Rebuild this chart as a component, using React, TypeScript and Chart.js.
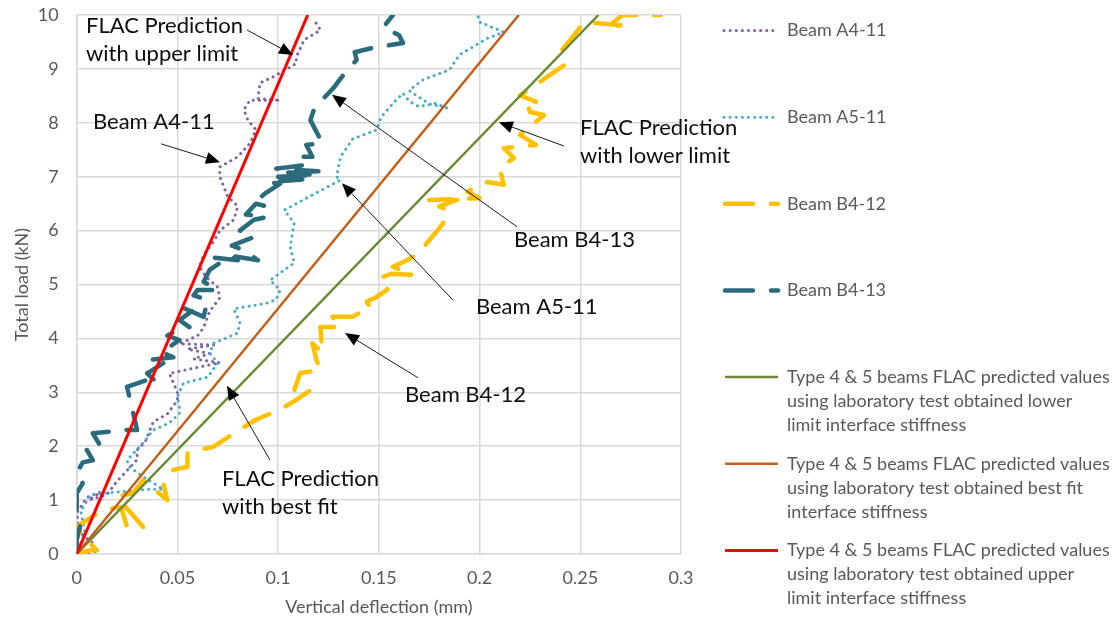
import React, { useEffect, useRef } from "react";
import { Chart, registerables } from "chart.js";

Chart.register(...registerables);

// ---------- axes ----------
const xTickValues = [0, 0.05, 0.1, 0.15, 0.2, 0.25, 0.3];
const xTickLabels = ["0", "0.05", "0.1", "0.15", "0.2", "0.25", "0.3"];
const yTickValues = [0, 1, 2, 3, 4, 5, 6, 7, 8, 9, 10];
const xAxisTitle = "Vertical deflection (mm)";
const yAxisTitle = "Total load (kN)";

// ---------- measured series ----------
const a411X = [0, 0.01, 0.008, 0.003, 0.001, 0, 0.002, 0.005, 0.012, 0.006, 0.015, 0.02, 0.025, 0.03, 0.03, 0.034, 0.038, 0.045, 0.05, 0.05, 0.046, 0.071, 0.058, 0.066, 0.055, 0.068, 0.051, 0.06, 0.063, 0.066, 0.071, 0.07, 0.064, 0.061, 0.063, 0.068, 0.071, 0.078, 0.08, 0.075, 0.071, 0.071, 0.08, 0.086, 0.089, 0.085, 0.083, 0.086, 0.101, 0.09, 0.091, 0.098, 0.109, 0.109, 0.113, 0.121, 0.118];
const a411Y = [0, 0.05, 0.2, 0.35, 0.55, 0.76, 0.87, 1.05, 1.15, 1.0, 1.1, 1.35, 1.55, 1.75, 1.93, 2.08, 2.45, 2.6, 2.85, 3.0, 3.35, 3.55, 3.62, 3.72, 3.8, 3.88, 3.9, 4.05, 4.2, 4.5, 4.75, 4.95, 5.15, 5.33, 5.55, 5.8, 6.0, 6.2, 6.45, 6.63, 7.0, 7.18, 7.37, 7.62, 7.87, 8.05, 8.24, 8.42, 8.42, 8.45, 8.74, 8.86, 9.1, 9.22, 9.54, 9.72, 9.9];

const a511X = [0, 0.004, 0.002, 0.007, 0.02, 0.036, 0.043, 0.033, 0.026, 0.025, 0.033, 0.038, 0.046, 0.051, 0.051, 0.05, 0.053, 0.065, 0.07, 0.066, 0.068, 0.08, 0.081, 0.078, 0.094, 0.099, 0.101, 0.096, 0.108, 0.106, 0.108, 0.103, 0.119, 0.131, 0.129, 0.131, 0.137, 0.149, 0.151, 0.157, 0.162, 0.165, 0.17, 0.178, 0.184, 0.175, 0.165, 0.172, 0.185, 0.19, 0.204, 0.212, 0.2, 0.199];
const a511Y = [0, 0.4, 0.8, 1.1, 1.15, 1.2, 1.2, 1.43, 1.62, 1.74, 2.06, 2.3, 2.43, 2.61, 2.73, 2.92, 3.17, 3.28, 3.54, 3.73, 3.91, 4.1, 4.29, 4.55, 4.65, 4.72, 4.9, 5.08, 5.4, 5.7, 6.14, 6.38, 6.7, 6.94, 7.0, 7.37, 7.7, 7.87, 8.1, 8.36, 8.55, 8.4, 8.3, 8.36, 8.27, 8.35, 8.6, 8.8, 8.98, 9.26, 9.57, 9.68, 9.87, 10.0];

const b412X = [0, 0.007, 0.01, 0.004, 0, 0.005, 0.013, 0.022, 0.025, 0.033, 0.02, 0.028, 0.033, 0.045, 0.043, 0.048, 0.055, 0.055, 0.061, 0.068, 0.078, 0.089, 0.102, 0.109, 0.116, 0.108, 0.111, 0.121, 0.119, 0.117, 0.122, 0.121, 0.131, 0.127, 0.137, 0.141, 0.146, 0.144, 0.149, 0.154, 0.156, 0.152, 0.156, 0.167, 0.157, 0.164, 0.17, 0.175, 0.179, 0.182, 0.182, 0.184, 0.18, 0.189, 0.175, 0.2, 0.194, 0.204, 0.212, 0.21, 0.217, 0.212, 0.228, 0.22, 0.232, 0.225, 0.223, 0.228, 0.22, 0.23, 0.242, 0.24, 0.247, 0.252, 0.27, 0.263, 0.271, 0.29];
const b412Y = [0, 0.07, 0.07, 0.3, 0.5, 0.63, 0.82, 0.87, 0.5, 0.5, 1.06, 1.13, 1.37, 1.0, 1.31, 1.56, 1.62, 1.87, 1.93, 1.99, 2.24, 2.49, 2.7, 2.86, 3.04, 3.04, 3.36, 3.41, 3.6, 3.91, 3.73, 4.21, 4.21, 4.4, 4.4, 4.49, 4.56, 4.68, 4.77, 4.9, 5.03, 5.14, 5.2, 5.18, 5.33, 5.45, 5.58, 5.82, 6.0, 6.14, 6.25, 6.38, 6.45, 6.57, 6.57, 6.6, 6.72, 6.9, 6.85, 7.16, 7.35, 7.53, 7.59, 7.78, 8.14, 8.2, 8.46, 8.39, 8.51, 8.76, 9.07, 9.31, 9.63, 9.87, 9.81, 9.76, 10.0, 10.0];

const b413X = [0, 0, 0.002, 0, 0, 0.003, 0, 0.003, 0.008, 0.005, 0.012, 0.008, 0.017, 0.025, 0.03, 0.025, 0.035, 0.04, 0.035, 0.043, 0.036, 0.048, 0.042, 0.046, 0.051, 0.045, 0.05, 0.056, 0.051, 0.058, 0.052, 0.063, 0.065, 0.058, 0.06, 0.07, 0.063, 0.066, 0.073, 0.068, 0.08, 0.074, 0.09, 0.083, 0.077, 0.088, 0.081, 0.088, 0.094, 0.084, 0.089, 0.094, 0.09, 0.094, 0.101, 0.095, 0.112, 0.1, 0.119, 0.105, 0.12, 0.099, 0.114, 0.111, 0.117, 0.114, 0.122, 0.116, 0.118, 0.128, 0.133, 0.139, 0.138, 0.147, 0.162, 0.16, 0.152, 0.157];
const b413Y = [0, 0.26, 0.57, 0.8, 1.13, 1.31, 1.5, 1.7, 1.74, 1.93, 1.99, 2.24, 2.27, 2.3, 2.3, 3.1, 3.23, 3.17, 3.35, 3.54, 3.6, 3.65, 3.75, 3.84, 3.97, 4.05, 4.16, 4.21, 4.34, 4.53, 4.58, 4.4, 4.71, 4.8, 4.9, 4.9, 5.05, 5.27, 5.45, 5.5, 5.45, 5.55, 5.45, 5.64, 5.72, 5.88, 6.0, 6.2, 6.25, 6.3, 6.5, 6.45, 6.58, 6.7, 6.87, 6.9, 6.95, 7.0, 7.03, 7.08, 7.1, 7.15, 7.22, 7.37, 7.37, 7.59, 7.62, 8.05, 8.27, 8.67, 8.92, 9.17, 9.31, 9.39, 9.48, 9.63, 9.76, 10.0];

// ---------- FLAC predictions (straight lines) ----------
const lowerX = [0, 0.259];
const lowerY = [0, 10];
const bestX = [0, 0.2195];
const bestY = [0, 10];
const upperX = [0, 0.1147];
const upperY = [0, 10];

const predText = "Type 4 & 5 beams FLAC predicted values";

const toPts = (xs: number[], ys: number[]) => xs.map((x, i) => ({ x, y: ys[i] }));

const FONT = "Lato, 'Open Sans', sans-serif";
const GREY = "#595959";

type Style = { color: string; width: number; dash: number[]; cap: CanvasLineCap };
const sUpper: Style = { color: "#ff0000", width: 3, dash: [], cap: "butt" };
const sBest: Style = { color: "#c0601a", width: 2.5, dash: [], cap: "butt" };
const sLower: Style = { color: "#6b8a35", width: 2.5, dash: [], cap: "butt" };
const sB413: Style = { color: "#2a6b7c", width: 4.5, dash: [28, 18], cap: "round" };
const sB412: Style = { color: "#ffc000", width: 4.5, dash: [28, 18], cap: "round" };
const sA511: Style = { color: "#4bacc6", width: 3, dash: [0.1, 6], cap: "round" };
const sA411: Style = { color: "#8064a2", width: 3, dash: [0.1, 6], cap: "round" };

const legendItems: { style: Style; lines: string[] }[] = [
  { style: sA411, lines: ["Beam A4-11"] },
  { style: sA511, lines: ["Beam A5-11"] },
  { style: sB412, lines: ["Beam B4-12"] },
  { style: sB413, lines: ["Beam B4-13"] },
  { style: sLower, lines: [predText, "using laboratory test obtained lower", "limit interface stiffness"] },
  { style: sBest, lines: [predText, "using laboratory test obtained best fit", "interface stiffness"] },
  { style: sUpper, lines: [predText, "using laboratory test obtained upper", "limit interface stiffness"] },
];

// callouts: text anchor + arrow (in data units)
const callouts = [
  { lines: ["FLAC Prediction", "with upper limit"], tx: 0.0046, ty: 9.8, from: [0.0846, 9.72], to: [0.1074, 9.26] },
  { lines: ["Beam A4-11"], tx: 0.0081, ty: 8.01, from: [0.0419, 7.61], to: [0.0711, 7.27] },
  { lines: ["Beam B4-13"], tx: 0.2171, ty: 5.83, from: [0.2186, 6.07], to: [0.1267, 8.52] },
  { lines: ["FLAC Prediction", "with lower limit"], tx: 0.2499, ty: 7.9, from: [0.2419, 7.57], to: [0.2096, 8.01] },
  { lines: ["Beam A5-11"], tx: 0.1982, ty: 4.58, from: [0.1868, 4.71], to: [0.1317, 6.88] },
  { lines: ["Beam B4-12"], tx: 0.163, ty: 2.95, from: [0.1694, 3.27], to: [0.1332, 4.1] },
  { lines: ["FLAC Prediction", "with best fit"], tx: 0.0721, ty: 1.39, from: [0.096, 1.74], to: [0.0746, 3.12] },
];

const ds = (label: string, xs: number[], ys: number[], s: Style) => ({
  label,
  data: toPts(xs, ys),
  showLine: true,
  borderColor: s.color,
  backgroundColor: s.color,
  borderWidth: s.width,
  borderDash: s.dash,
  borderCapStyle: s.cap,
  borderJoinStyle: "round" as const,
  pointRadius: 0,
  pointHoverRadius: 0,
  tension: 0,
});

const calloutPlugin = {
  id: "callouts",
  afterDatasetsDraw(chart: any) {
    const ctx: CanvasRenderingContext2D = chart.ctx;
    const xs = chart.scales.x;
    const ys = chart.scales.y;
    ctx.save();
    for (const c of callouts) {
      const x1 = xs.getPixelForValue(c.from[0]);
      const y1 = ys.getPixelForValue(c.from[1]);
      const x2 = xs.getPixelForValue(c.to[0]);
      const y2 = ys.getPixelForValue(c.to[1]);
      const ang = Math.atan2(y2 - y1, x2 - x1);
      const hl = 14;
      const hw = 6;
      const bx = x2 - hl * Math.cos(ang);
      const by = y2 - hl * Math.sin(ang);
      ctx.strokeStyle = "#1a1a1a";
      ctx.lineWidth = 1;
      ctx.setLineDash([]);
      ctx.beginPath();
      ctx.moveTo(x1, y1);
      ctx.lineTo(bx, by);
      ctx.stroke();
      ctx.fillStyle = "#000";
      ctx.beginPath();
      ctx.moveTo(x2, y2);
      ctx.lineTo(bx + hw * Math.sin(ang), by - hw * Math.cos(ang));
      ctx.lineTo(bx - hw * Math.sin(ang), by + hw * Math.cos(ang));
      ctx.closePath();
      ctx.fill();
      ctx.font = `22px ${FONT}`;
      ctx.fillStyle = "#0d0d0d";
      ctx.textBaseline = "middle";
      ctx.textAlign = "left";
      const tx = xs.getPixelForValue(c.tx);
      const ty = ys.getPixelForValue(c.ty);
      c.lines.forEach((ln, i) => ctx.fillText(ln, tx, ty + i * 28));
    }
    ctx.restore();
  },
};

const legendPlugin = {
  id: "customLegend",
  afterDraw(chart: any) {
    const ctx: CanvasRenderingContext2D = chart.ctx;
    const area = chart.chartArea;
    const x0 = area.right + 42;
    const sampleW = 55;
    const top = area.top + 15.5;
    const step = (area.bottom - area.top) / 6.22;
    ctx.save();
    legendItems.forEach((it, i) => {
      const y = top + i * step;
      ctx.strokeStyle = it.style.color;
      ctx.lineWidth = it.style.width;
      ctx.lineCap = it.style.cap;
      ctx.setLineDash(it.style.dash);
      ctx.beginPath();
      const dotted = it.style.dash.length && it.style.dash[0] < 1;
      ctx.moveTo(x0 + (dotted ? 1 : 2), y);
      ctx.lineTo(x0 + sampleW, y);
      ctx.stroke();
      ctx.setLineDash([]);
      ctx.font = `18px ${FONT}`;
      ctx.fillStyle = GREY;
      ctx.textBaseline = "middle";
      ctx.textAlign = "left";
      it.lines.forEach((ln, j) => ctx.fillText(ln, x0 + sampleW + 9, y + j * 24));
    });
    ctx.restore();
  },
};

export default function App() {
  const ref = useRef<HTMLCanvasElement | null>(null);
  useEffect(() => {
    if (!ref.current) return;
    const tickFont = { family: FONT, size: 18 };
    const chart = new Chart(ref.current, {
      type: "scatter",
      data: {
        datasets: [
          ds("Type 4 & 5 beams FLAC predicted values (upper)", upperX, upperY, sUpper),
          ds("Type 4 & 5 beams FLAC predicted values (best fit)", bestX, bestY, sBest),
          ds("Type 4 & 5 beams FLAC predicted values (lower)", lowerX, lowerY, sLower),
          ds("Beam B4-13", b413X, b413Y, sB413),
          ds("Beam B4-12", b412X, b412Y, sB412),
          ds("Beam A5-11", a511X, a511Y, sA511),
          ds("Beam A4-11", a411X, a411Y, sA411),
        ] as any,
      },
      options: {
        responsive: false,
        animation: false,
        events: [],
        layout: { padding: { left: 0, right: 438, top: 15, bottom: 0 } },
        plugins: { legend: { display: false }, tooltip: { enabled: false } },
        scales: {
          x: {
            type: "linear",
            min: 0,
            max: 0.3,
            afterBuildTicks: (s: any) => {
              s.ticks = xTickValues.map((v) => ({ value: v }));
            },
            afterFit: (s: any) => {
              s.height = 74;
              s.paddingLeft = 0;
              s.paddingRight = 0;
            },
            ticks: {
              autoSkip: false,
              maxRotation: 0,
              color: GREY,
              font: tickFont,
              padding: 13,
              callback: (_v: any, i: number) => xTickLabels[i],
            },
            grid: { color: "#d9d9d9", lineWidth: 1.5, drawTicks: false },
            border: { color: "#d9d9d9", width: 1.5 },
            title: { display: true, text: xAxisTitle, color: GREY, font: tickFont, padding: { top: 0, bottom: 10 } },
          },
          y: {
            type: "linear",
            min: 0,
            max: 10,
            afterBuildTicks: (s: any) => {
              s.ticks = yTickValues.map((v) => ({ value: v }));
            },
            afterFit: (s: any) => {
              s.width = 76.7;
              s.paddingTop = 0;
              s.paddingBottom = 0;
            },
            ticks: {
              autoSkip: false,
              color: GREY,
              font: tickFont,
              padding: 18,
              callback: (v: any) => String(v),
            },
            grid: { color: "#d9d9d9", lineWidth: 1.5, drawTicks: false },
            border: { color: "#d9d9d9", width: 1.5 },
            title: { display: true, text: yAxisTitle, color: GREY, font: tickFont, padding: { top: 11, bottom: 0 } },
          },
        },
      } as any,
      plugins: [calloutPlugin, legendPlugin],
    });
    return () => chart.destroy();
  }, []);
  return (
    <div style={{ position: "absolute", left: 0, top: 0, width: 1119, height: 628, background: "#fff" }}>
      <canvas ref={ref} width={1119} height={628} style={{ width: 1119, height: 628 }} />
    </div>
  );
}
